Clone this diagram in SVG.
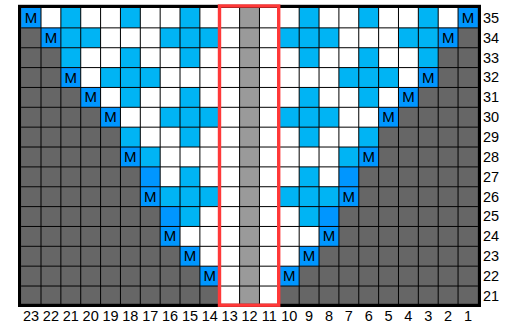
<svg xmlns="http://www.w3.org/2000/svg" width="516" height="325" viewBox="0 0 516 325">
<style>
.lb{fill:#00B4F4}
.db{fill:#0096FF}
.dg{fill:#666666}
.lg{fill:#9A9A9A}
.grid{fill:none;stroke:#000;stroke-width:1}
.border{fill:none;stroke:#000;stroke-width:3.2}
.red{fill:none;stroke:#FF3838;stroke-width:3.4}
text{font-family:"Liberation Sans",Arial,sans-serif;font-size:14.5px;fill:#000}
.m{font-size:15px;text-anchor:middle}
.bn{text-anchor:middle}
</style>
<rect x="0" y="0" width="516" height="325" fill="#fff"/>
<g id="cells">
<rect x="21.14" y="8" width="456.78" height="297.9" fill="#fff"/>
<!-- light gray centre column -->
<rect class="lg" x="239.60" y="8" width="19.86" height="297.9"/>
<!-- dark gray left runs -->
<rect class="dg" x="21.14" y="27.86" width="19.86" height="19.86"/>
<rect class="dg" x="21.14" y="47.72" width="39.72" height="19.86"/>
<rect class="dg" x="21.14" y="67.58" width="39.72" height="19.86"/>
<rect class="dg" x="21.14" y="87.44" width="59.58" height="19.86"/>
<rect class="dg" x="21.14" y="107.30" width="79.44" height="19.86"/>
<rect class="dg" x="21.14" y="127.16" width="99.30" height="19.86"/>
<rect class="dg" x="21.14" y="147.02" width="99.30" height="19.86"/>
<rect class="dg" x="21.14" y="166.88" width="119.16" height="19.86"/>
<rect class="dg" x="21.14" y="186.74" width="119.16" height="19.86"/>
<rect class="dg" x="21.14" y="206.60" width="139.02" height="19.86"/>
<rect class="dg" x="21.14" y="226.46" width="139.02" height="19.86"/>
<rect class="dg" x="21.14" y="246.32" width="158.88" height="19.86"/>
<rect class="dg" x="21.14" y="266.18" width="178.74" height="19.86"/>
<rect class="dg" x="21.14" y="286.04" width="198.60" height="19.86"/>
<!-- dark gray right runs -->
<rect class="dg" x="458.06" y="27.86" width="19.86" height="19.86"/>
<rect class="dg" x="438.20" y="47.72" width="39.72" height="19.86"/>
<rect class="dg" x="438.20" y="67.58" width="39.72" height="19.86"/>
<rect class="dg" x="418.34" y="87.44" width="59.58" height="19.86"/>
<rect class="dg" x="398.48" y="107.30" width="79.44" height="19.86"/>
<rect class="dg" x="378.62" y="127.16" width="99.30" height="19.86"/>
<rect class="dg" x="378.62" y="147.02" width="99.30" height="19.86"/>
<rect class="dg" x="358.76" y="166.88" width="119.16" height="19.86"/>
<rect class="dg" x="358.76" y="186.74" width="119.16" height="19.86"/>
<rect class="dg" x="338.90" y="206.60" width="139.02" height="19.86"/>
<rect class="dg" x="338.90" y="226.46" width="139.02" height="19.86"/>
<rect class="dg" x="319.04" y="246.32" width="158.88" height="19.86"/>
<rect class="dg" x="299.18" y="266.18" width="178.74" height="19.86"/>
<rect class="dg" x="279.32" y="286.04" width="198.60" height="19.86"/>
<!-- light blue -->
<rect class="lb" x="60.86" y="8" width="19.86" height="19.86"/>
<rect class="lb" x="120.44" y="8" width="19.86" height="19.86"/>
<rect class="lb" x="180.02" y="8" width="19.86" height="19.86"/>
<rect class="lb" x="299.18" y="8" width="19.86" height="19.86"/>
<rect class="lb" x="358.76" y="8" width="19.86" height="19.86"/>
<rect class="lb" x="418.34" y="8" width="19.86" height="19.86"/>
<rect class="lb" x="60.86" y="27.86" width="39.72" height="19.86"/>
<rect class="lb" x="160.16" y="27.86" width="59.58" height="19.86"/>
<rect class="lb" x="279.32" y="27.86" width="59.58" height="19.86"/>
<rect class="lb" x="398.48" y="27.86" width="39.72" height="19.86"/>
<rect class="lb" x="60.86" y="47.72" width="19.86" height="19.86"/>
<rect class="lb" x="120.44" y="47.72" width="19.86" height="19.86"/>
<rect class="lb" x="180.02" y="47.72" width="19.86" height="19.86"/>
<rect class="lb" x="299.18" y="47.72" width="19.86" height="19.86"/>
<rect class="lb" x="358.76" y="47.72" width="19.86" height="19.86"/>
<rect class="lb" x="418.34" y="47.72" width="19.86" height="19.86"/>
<rect class="lb" x="100.58" y="67.58" width="59.58" height="19.86"/>
<rect class="lb" x="338.90" y="67.58" width="59.58" height="19.86"/>
<rect class="lb" x="120.44" y="87.44" width="19.86" height="19.86"/>
<rect class="lb" x="180.02" y="87.44" width="19.86" height="19.86"/>
<rect class="lb" x="299.18" y="87.44" width="19.86" height="19.86"/>
<rect class="lb" x="358.76" y="87.44" width="19.86" height="19.86"/>
<rect class="lb" x="160.16" y="107.30" width="59.58" height="19.86"/>
<rect class="lb" x="279.32" y="107.30" width="59.58" height="19.86"/>
<rect class="lb" x="120.44" y="127.16" width="19.86" height="19.86"/>
<rect class="lb" x="180.02" y="127.16" width="19.86" height="19.86"/>
<rect class="lb" x="299.18" y="127.16" width="19.86" height="19.86"/>
<rect class="lb" x="358.76" y="127.16" width="19.86" height="19.86"/>
<rect class="lb" x="140.30" y="147.02" width="19.86" height="19.86"/>
<rect class="lb" x="338.90" y="147.02" width="19.86" height="19.86"/>
<rect class="lb" x="180.02" y="166.88" width="19.86" height="19.86"/>
<rect class="lb" x="299.18" y="166.88" width="19.86" height="19.86"/>
<rect class="lb" x="160.16" y="186.74" width="59.58" height="19.86"/>
<rect class="lb" x="279.32" y="186.74" width="59.58" height="19.86"/>
<rect class="lb" x="180.02" y="206.60" width="19.86" height="19.86"/>
<rect class="lb" x="299.18" y="206.60" width="19.86" height="19.86"/>
<!-- darker blue -->
<rect class="db" x="21.14" y="8" width="19.86" height="19.86"/>
<rect class="db" x="458.06" y="8" width="19.86" height="19.86"/>
<rect class="db" x="41.00" y="27.86" width="19.86" height="19.86"/>
<rect class="db" x="438.20" y="27.86" width="19.86" height="19.86"/>
<rect class="db" x="60.86" y="67.58" width="19.86" height="19.86"/>
<rect class="db" x="418.34" y="67.58" width="19.86" height="19.86"/>
<rect class="db" x="80.72" y="87.44" width="19.86" height="19.86"/>
<rect class="db" x="398.48" y="87.44" width="19.86" height="19.86"/>
<rect class="db" x="100.58" y="107.30" width="19.86" height="19.86"/>
<rect class="db" x="378.62" y="107.30" width="19.86" height="19.86"/>
<rect class="db" x="120.44" y="147.02" width="19.86" height="19.86"/>
<rect class="db" x="358.76" y="147.02" width="19.86" height="19.86"/>
<rect class="db" x="140.30" y="166.88" width="19.86" height="19.86"/>
<rect class="db" x="338.90" y="166.88" width="19.86" height="19.86"/>
<rect class="db" x="140.30" y="186.74" width="19.86" height="19.86"/>
<rect class="db" x="338.90" y="186.74" width="19.86" height="19.86"/>
<rect class="db" x="160.16" y="206.60" width="19.86" height="19.86"/>
<rect class="db" x="319.04" y="206.60" width="19.86" height="19.86"/>
<rect class="db" x="160.16" y="226.46" width="19.86" height="19.86"/>
<rect class="db" x="319.04" y="226.46" width="19.86" height="19.86"/>
<rect class="db" x="180.02" y="246.32" width="19.86" height="19.86"/>
<rect class="db" x="299.18" y="246.32" width="19.86" height="19.86"/>
<rect class="db" x="199.88" y="266.18" width="19.86" height="19.86"/>
<rect class="db" x="279.32" y="266.18" width="19.86" height="19.86"/>
</g>
<g id="gridlines">
<path class="grid" d="M41 8V305.9M60.86 8V305.9M80.72 8V305.9M100.58 8V305.9M120.44 8V305.9M140.3 8V305.9M160.16 8V305.9M180.02 8V305.9M199.88 8V305.9M219.74 8V305.9M239.6 8V305.9M259.46 8V305.9M279.32 8V305.9M299.18 8V305.9M319.04 8V305.9M338.9 8V305.9M358.76 8V305.9M378.62 8V305.9M398.48 8V305.9M418.34 8V305.9M438.2 8V305.9M458.06 8V305.9"/>
<path class="grid" d="M21.14 27.86H477.92M21.14 47.72H477.92M21.14 67.58H477.92M21.14 87.44H477.92M21.14 107.3H477.92M21.14 127.16H477.92M21.14 147.02H477.92M21.14 166.88H477.92M21.14 186.74H477.92M21.14 206.6H477.92M21.14 226.46H477.92M21.14 246.32H477.92M21.14 266.18H477.92M21.14 286.04H477.92"/>
<rect class="border" x="19.6" y="6.4" width="459.8" height="299"/>
<rect class="red" x="219.5" y="6" width="59.2" height="299.2"/>
</g>
<g id="m-labels">
<text class="m" x="31.07" y="22.9">M</text>
<text class="m" x="467.99" y="22.9">M</text>
<text class="m" x="50.93" y="42.8">M</text>
<text class="m" x="448.13" y="42.8">M</text>
<text class="m" x="70.79" y="82.5">M</text>
<text class="m" x="428.27" y="82.5">M</text>
<text class="m" x="90.65" y="102.4">M</text>
<text class="m" x="408.41" y="102.4">M</text>
<text class="m" x="110.51" y="122.2">M</text>
<text class="m" x="388.55" y="122.2">M</text>
<text class="m" x="130.37" y="161.9">M</text>
<text class="m" x="368.69" y="161.9">M</text>
<text class="m" x="150.23" y="201.7">M</text>
<text class="m" x="348.83" y="201.7">M</text>
<text class="m" x="170.09" y="241.4">M</text>
<text class="m" x="328.97" y="241.4">M</text>
<text class="m" x="189.95" y="261.2">M</text>
<text class="m" x="309.11" y="261.2">M</text>
<text class="m" x="209.81" y="281.1">M</text>
<text class="m" x="289.25" y="281.1">M</text>
</g>
<g id="row-numbers">
<text x="483" y="22.7">35</text>
<text x="483" y="42.6">34</text>
<text x="483" y="62.5">33</text>
<text x="483" y="82.3">32</text>
<text x="483" y="102.2">31</text>
<text x="483" y="122">30</text>
<text x="483" y="141.9">29</text>
<text x="483" y="161.8">28</text>
<text x="483" y="181.6">27</text>
<text x="483" y="201.5">26</text>
<text x="483" y="221.3">25</text>
<text x="483" y="241.2">24</text>
<text x="483" y="261">23</text>
<text x="483" y="280.9">22</text>
<text x="483" y="300.8">21</text>
</g>
<g id="column-numbers">
<text class="bn" x="31.07" y="320.5">23</text>
<text class="bn" x="50.93" y="320.5">22</text>
<text class="bn" x="70.79" y="320.5">21</text>
<text class="bn" x="90.65" y="320.5">20</text>
<text class="bn" x="110.51" y="320.5">19</text>
<text class="bn" x="130.37" y="320.5">18</text>
<text class="bn" x="150.23" y="320.5">17</text>
<text class="bn" x="170.09" y="320.5">16</text>
<text class="bn" x="189.95" y="320.5">15</text>
<text class="bn" x="209.81" y="320.5">14</text>
<text class="bn" x="229.67" y="320.5">13</text>
<text class="bn" x="249.53" y="320.5">12</text>
<text class="bn" x="269.39" y="320.5">11</text>
<text class="bn" x="289.25" y="320.5">10</text>
<text class="bn" x="309.11" y="320.5">9</text>
<text class="bn" x="328.97" y="320.5">8</text>
<text class="bn" x="348.83" y="320.5">7</text>
<text class="bn" x="368.69" y="320.5">6</text>
<text class="bn" x="388.55" y="320.5">5</text>
<text class="bn" x="408.41" y="320.5">4</text>
<text class="bn" x="428.27" y="320.5">3</text>
<text class="bn" x="448.13" y="320.5">2</text>
<text class="bn" x="467.99" y="320.5">1</text>
</g>
</svg>
